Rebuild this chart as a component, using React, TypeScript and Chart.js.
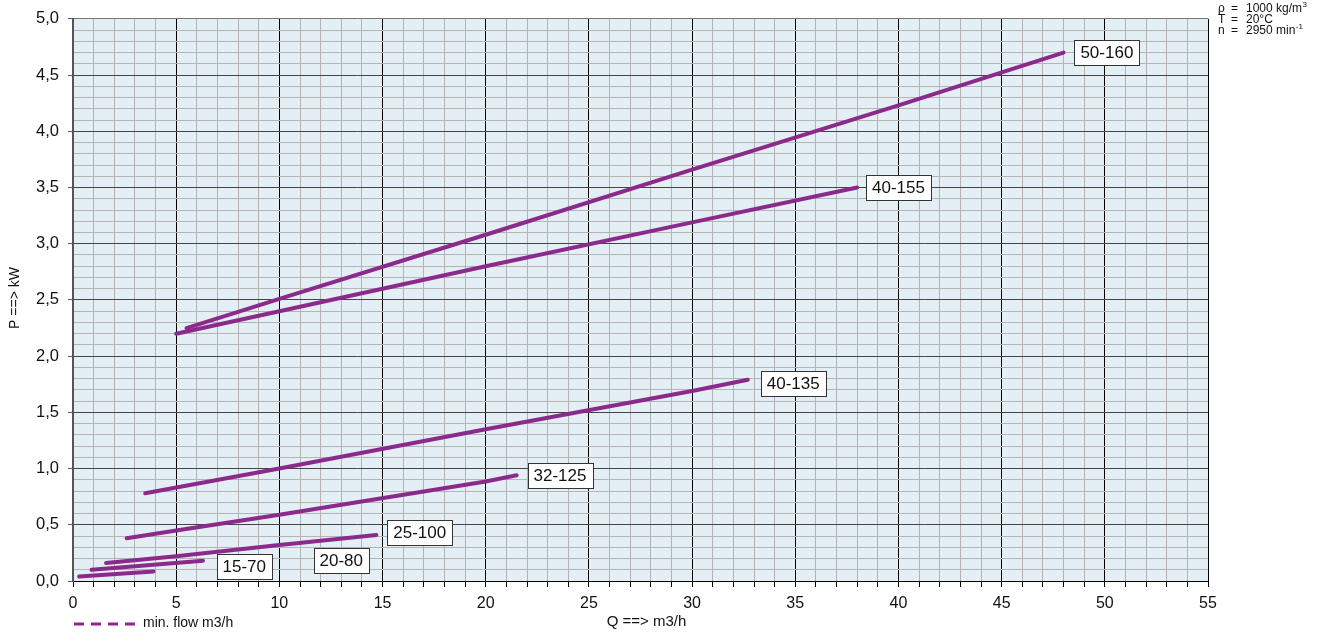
import React, { useEffect, useRef } from "react";
import { Chart, registerables } from "chart.js";

Chart.register(...registerables);

const curveNames = ["50-160", "40-155", "40-135", "32-125", "25-100", "20-80", "15-70"];
const curveQ = [
  [5.5, 10, 20, 30, 40, 48],
  [5, 10, 20, 30, 38],
  [3.5, 10, 20, 30, 32.7],
  [2.6, 5, 10, 20, 21.5],
  [1.6, 5, 10, 14.7],
  [0.9, 6.3],
  [0.3, 3.9],
];
const curveP = [
  [2.25, 2.51, 3.08, 3.66, 4.23, 4.7],
  [2.2, 2.4, 2.8, 3.19, 3.5],
  [0.78, 1.0, 1.35, 1.69, 1.79],
  [0.38, 0.45, 0.59, 0.885, 0.94],
  [0.16, 0.22, 0.32, 0.41],
  [0.1, 0.18],
  [0.04, 0.085],
];
const labelQ = [50.1, 40.0, 34.9, 23.6, 16.8, 13.0, 8.3];
const labelP = [4.7, 3.5, 1.76, 0.94, 0.43, 0.186, 0.133];

const xTickStep = 1;
const yTickStep = 0.1;
const xMax = 55;
const yMax = 5;

const conditionLines = [
  ["ρ", "=", "1000 kg/m", "3"],
  ["T", "=", "20°C", ""],
  ["n", "=", "2950 min", "-1"],
];

const PURPLE = "#8c2a8c";
const FONT = "'Liberation Sans', Arial, sans-serif";

export default function App() {
  const ref = useRef<HTMLCanvasElement | null>(null);

  useEffect(() => {
    if (!ref.current) return;

    const bgPlugin = {
      id: "bg",
      beforeDraw(chart: any) {
        const { ctx, chartArea } = chart;
        ctx.save();
        ctx.fillStyle = "#e3eef5";
        ctx.fillRect(chartArea.left, chartArea.top, chartArea.right - chartArea.left, chartArea.bottom - chartArea.top);
        ctx.restore();
      },
    };

    const textPlugin = {
      id: "texts",
      afterDatasetsDraw(chart: any) {
        const { ctx, scales, chartArea } = chart;
        const xs = scales.x;
        const ys = scales.y;
        ctx.save();
        // labels
        ctx.font = `17px ${FONT}`;
        ctx.textAlign = "center";
        ctx.textBaseline = "middle";
        curveNames.forEach((name, i) => {
          const cx = xs.getPixelForValue(labelQ[i]);
          const cy = ys.getPixelForValue(labelP[i]);
          const w = ctx.measureText(name).width + 12;
          const h = 25;
          ctx.fillStyle = "#ffffff";
          ctx.fillRect(Math.round(cx - w / 2) + 0.5, Math.round(cy - h / 2) + 0.5, Math.round(w), h);
          ctx.strokeStyle = "#333333";
          ctx.lineWidth = 1;
          ctx.strokeRect(Math.round(cx - w / 2) + 0.5, Math.round(cy - h / 2) + 0.5, Math.round(w), h);
          ctx.fillStyle = "#111111";
          ctx.fillText(name, cx, cy + 1);
        });

        // axis titles
        ctx.fillStyle = "#111111";
        ctx.font = `15px ${FONT}`;
        ctx.textAlign = "center";
        ctx.fillText("Q ==> m3/h", (chartArea.left + chartArea.right) / 2 + 6, 622);
        ctx.save();
        ctx.translate(15, 298);
        ctx.rotate(-Math.PI / 2);
        ctx.font = `14px ${FONT}`;
        ctx.fillText("P ==> kW", 0, 0);
        ctx.restore();

        // legend
        ctx.strokeStyle = PURPLE;
        ctx.lineWidth = 3;
        ctx.setLineDash([10, 7]);
        ctx.beginPath();
        ctx.moveTo(74, 624);
        ctx.lineTo(136, 624);
        ctx.stroke();
        ctx.setLineDash([]);
        ctx.font = `14px ${FONT}`;
        ctx.textAlign = "left";
        ctx.fillStyle = "#111111";
        ctx.fillText("min. flow m3/h", 143, 623);

        // conditions
        const ys0 = [9, 20, 31];
        conditionLines.forEach((ln, i) => {
          ctx.font = `12px ${FONT}`;
          ctx.textAlign = "left";
          ctx.fillText(ln[0], 1218, ys0[i]);
          ctx.fillText(ln[1], 1231, ys0[i]);
          ctx.fillText(ln[2], 1246, ys0[i]);
          if (ln[3]) {
            const w = ctx.measureText(ln[2]).width;
            ctx.font = `8px ${FONT}`;
            ctx.fillText(ln[3], 1246 + w + 0.5, ys0[i] - 4);
          }
        });
        ctx.restore();
      },
    };

    const datasets = curveNames.map((name, i) => ({
      label: name,
      data: curveQ[i].map((q, j) => ({ x: q, y: curveP[i][j] })),
      borderColor: PURPLE,
      backgroundColor: PURPLE,
      borderWidth: 4,
      borderCapStyle: "round" as const,
      pointRadius: 0,
      tension: 0,
      fill: false,
    }));

    const chart = new Chart(ref.current, {
      type: "line",
      data: { datasets },
      plugins: [bgPlugin, textPlugin],
      options: {
        animation: false,
        responsive: false,
        devicePixelRatio: 1,
        layout: { padding: { left: 0, top: 16, right: 118, bottom: 0 } },
        plugins: { legend: { display: false }, tooltip: { enabled: false } },
        scales: {
          x: {
            type: "linear",
            min: 0,
            max: xMax,
            afterFit(scale: any) {
              scale.height = 51;
            },
            ticks: {
              stepSize: xTickStep,
              autoSkip: false,
              maxRotation: 0,
              padding: 7,
              color: "#111111",
              font: { family: FONT, size: 16 },
              callback: (v: any) => (Math.round(v) % 5 === 0 ? String(Math.round(v)) : ""),
            },
            grid: {
              color: (c: any) => (Math.round(c.tick?.value ?? 0) % 5 === 0 ? "#000000" : "#b4b4b4"),
              tickColor: "#000000",
              tickLength: 6,
              lineWidth: 1,
            },
            border: { color: "#000000", width: 1 },
          },
          y: {
            type: "linear",
            min: 0,
            max: yMax,
            afterFit(scale: any) {
              scale.width = 73;
            },
            ticks: {
              stepSize: yTickStep,
              autoSkip: false,
              padding: 9,
              color: "#111111",
              font: { family: FONT, size: 16.5 },
              callback: (v: any) => {
                const r = Math.round(v * 10);
                return r % 5 === 0 ? (r / 10).toFixed(1).replace(".", ",") : "";
              },
            },
            grid: {
              color: (c: any) => {
                const r = Math.round((c.tick?.value ?? 0) * 10);
                if (r === 50) return "#777777";
                return r % 5 === 0 ? "#444444" : "#b4b4b4";
              },
              tickColor: (c: any) => {
                const r = Math.round((c.tick?.value ?? 0) * 10);
                return r % 5 === 0 ? "#555555" : "rgba(0,0,0,0)";
              },
              tickLength: 5,
              lineWidth: 1,
            },
            border: { color: "#555555", width: 2 },
          },
        },
      },
    });

    return () => chart.destroy();
  }, []);

  return (
    <div style={{ position: "absolute", left: 0, top: 0, width: 1326, height: 632, background: "#fff" }}>
      <canvas ref={ref} width={1326} height={632} style={{ width: 1326, height: 632, display: "block" }} />
    </div>
  );
}
